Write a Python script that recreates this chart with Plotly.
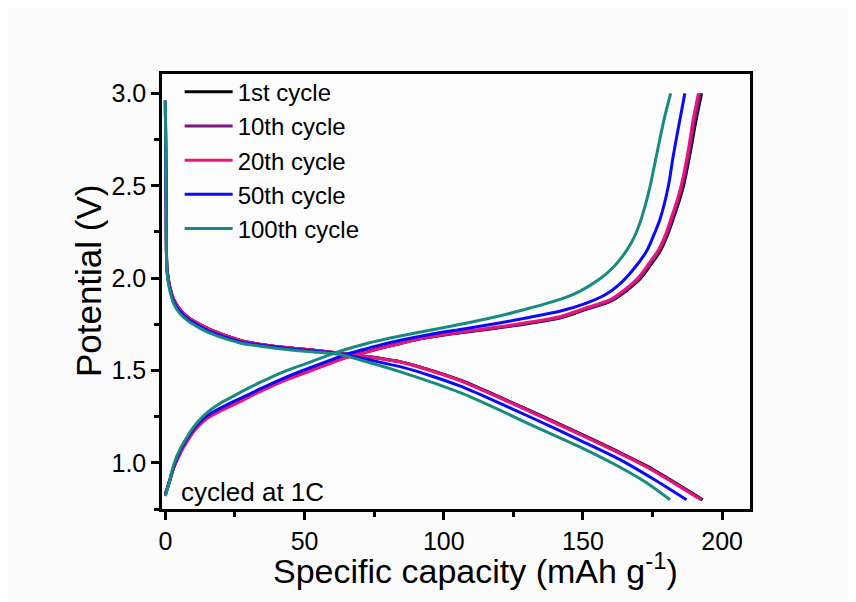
import plotly.graph_objects as go

# ---------------- data ----------------
cycle_names = ["1st cycle", "10th cycle", "20th cycle", "50th cycle", "100th cycle"]
cycle_colors = ["#000000", "#7d1585", "#e8157f", "#0a0af5", "#1a8a80"]

# discharge branches (capacity mAh/g, potential V)
dis_cap_1 = [0, 0.3, 0.6, 1.5, 3, 5, 8, 12, 16, 22, 28, 35, 46, 55, 63, 70, 77, 85, 95, 106, 118, 131, 149, 163, 173, 183, 193.0]
dis_v_1 = [2.96, 2.4, 2.05, 1.96, 1.885, 1.835, 1.79, 1.752, 1.722, 1.687, 1.658, 1.64, 1.62, 1.607, 1.593, 1.58, 1.566, 1.545, 1.503, 1.447, 1.37, 1.282, 1.158, 1.058, 0.982, 0.893, 0.80]
dis_cap_10 = [0, 0.3, 0.6, 1.5, 3, 5, 8, 12, 16, 22, 28, 35, 46, 55, 63, 70, 77, 85, 95, 106, 118, 131, 149, 163, 173, 183, 192.7]
dis_v_10 = [2.96, 2.4, 2.05, 1.96, 1.885, 1.835, 1.79, 1.752, 1.722, 1.687, 1.658, 1.64, 1.62, 1.607, 1.593, 1.58, 1.566, 1.545, 1.502, 1.446, 1.368, 1.28, 1.156, 1.055, 0.979, 0.89, 0.80]
dis_cap_20 = [0, 0.3, 0.6, 1.5, 3, 5, 8, 12, 16, 22, 28, 35, 46, 55, 63, 70, 77, 85, 95, 106, 118, 131, 149, 163, 173, 183, 192.4]
dis_v_20 = [2.96, 2.4, 2.05, 1.96, 1.885, 1.835, 1.79, 1.752, 1.722, 1.687, 1.658, 1.64, 1.62, 1.607, 1.593, 1.579, 1.564, 1.543, 1.50, 1.444, 1.366, 1.277, 1.153, 1.052, 0.976, 0.887, 0.80]
dis_cap_50 = [0, 0.3, 0.6, 1.5, 3, 5, 8, 12, 16, 22, 28, 35, 46, 55, 63, 70, 77, 85, 95, 106, 118, 131, 149, 163, 175, 187.2]
dis_v_50 = [2.96, 2.4, 2.04, 1.95, 1.873, 1.823, 1.78, 1.742, 1.712, 1.678, 1.652, 1.635, 1.615, 1.603, 1.59, 1.568, 1.545, 1.518, 1.473, 1.415, 1.337, 1.248, 1.122, 1.02, 0.915, 0.80]
dis_cap_100 = [0, 0.3, 0.6, 1.5, 3, 5, 8, 12, 16, 22, 28, 35, 46, 55, 63, 70, 77, 85, 95, 106, 118, 131, 149, 161, 172, 181.3]
dis_v_100 = [2.96, 2.4, 2.03, 1.94, 1.862, 1.812, 1.77, 1.732, 1.702, 1.67, 1.645, 1.63, 1.61, 1.598, 1.585, 1.557, 1.527, 1.49, 1.44, 1.38, 1.30, 1.208, 1.085, 0.995, 0.90, 0.80]

# charge branches
chg_cap_1 = [0, 1.5, 3, 5.5, 7.8, 10, 12, 15, 19.7, 25, 29.3, 34, 42, 52, 60, 65, 72, 77, 84, 91.5, 100, 106, 118, 131, 142, 150, 160, 165, 170.5, 174, 177.7, 180, 182.4, 184.5, 186.2, 188.6, 190.5, 192.6]
chg_v_1 = [0.83, 0.90, 0.975, 1.06, 1.12, 1.17, 1.205, 1.245, 1.285, 1.322, 1.355, 1.39, 1.445, 1.50, 1.545, 1.572, 1.600, 1.620, 1.645, 1.671, 1.692, 1.704, 1.727, 1.755, 1.785, 1.825, 1.875, 1.925, 1.995, 2.065, 2.145, 2.22, 2.32, 2.415, 2.505, 2.685, 2.845, 3.0]
chg_cap_10 = [0, 1.5, 3, 5.5, 7.8, 10, 12, 15, 19.7, 25, 29.3, 34, 42, 52, 60, 65, 72, 77, 84, 91.5, 100, 106, 118, 131, 142, 150, 160, 165, 170.3, 173.8, 177.5, 179.8, 182.2, 184.2, 185.9, 188.3, 190.1, 192.2]
chg_v_10 = [0.83, 0.90, 0.975, 1.06, 1.12, 1.17, 1.205, 1.245, 1.285, 1.322, 1.355, 1.39, 1.445, 1.50, 1.545, 1.572, 1.600, 1.620, 1.645, 1.671, 1.693, 1.706, 1.729, 1.758, 1.788, 1.828, 1.878, 1.93, 2.0, 2.07, 2.15, 2.225, 2.325, 2.42, 2.51, 2.69, 2.85, 3.0]
chg_cap_20 = [0, 1.5, 3, 5.5, 7.8, 10, 12, 15, 19.7, 25, 29.3, 34, 42, 52, 60, 65, 72, 77, 84, 91.5, 100, 106, 118, 131, 142, 150, 160, 165, 170, 173.5, 177.2, 179.5, 181.8, 183.9, 185.5, 187.8, 189.5, 191.5]
chg_v_20 = [0.83, 0.90, 0.972, 1.055, 1.115, 1.165, 1.2, 1.24, 1.28, 1.317, 1.35, 1.385, 1.44, 1.497, 1.543, 1.57, 1.598, 1.618, 1.645, 1.672, 1.695, 1.708, 1.732, 1.762, 1.792, 1.833, 1.885, 1.937, 2.005, 2.075, 2.155, 2.23, 2.33, 2.425, 2.515, 2.69, 2.85, 3.0]
chg_cap_50 = [0, 1.5, 3, 5.5, 7.8, 10, 12, 15, 20, 25, 29.3, 34, 42, 52, 60, 65, 72, 77, 84, 95, 106, 120, 131, 142, 150, 158, 163, 168, 173, 175.5, 177.7, 180.7, 182.4, 184.6, 186.6]
chg_v_50 = [0.825, 0.90, 0.98, 1.07, 1.13, 1.18, 1.215, 1.255, 1.298, 1.335, 1.365, 1.40, 1.455, 1.515, 1.56, 1.587, 1.617, 1.637, 1.662, 1.695, 1.722, 1.757, 1.788, 1.822, 1.858, 1.91, 1.965, 2.045, 2.15, 2.235, 2.32, 2.50, 2.66, 2.84, 3.0]
chg_cap_100 = [0, 1.5, 3, 5.5, 7.8, 10, 12, 15, 20, 25, 29.3, 34, 42, 52, 60, 65, 72, 77, 84, 95, 106, 120, 131, 141.8, 149, 156, 161, 165.7, 168.5, 170.5, 172.5, 174, 176.5, 179, 181.5]
chg_v_100 = [0.82, 0.90, 0.99, 1.08, 1.14, 1.19, 1.228, 1.272, 1.325, 1.365, 1.40, 1.435, 1.49, 1.545, 1.59, 1.615, 1.645, 1.663, 1.685, 1.718, 1.75, 1.795, 1.838, 1.885, 1.93, 1.995, 2.06, 2.15, 2.225, 2.30, 2.40, 2.49, 2.67, 2.85, 3.0]

discharge_caps = [dis_cap_1, dis_cap_10, dis_cap_20, dis_cap_50, dis_cap_100]
discharge_vs = [dis_v_1, dis_v_10, dis_v_20, dis_v_50, dis_v_100]
charge_caps = [chg_cap_1, chg_cap_10, chg_cap_20, chg_cap_50, chg_cap_100]
charge_vs = [chg_v_1, chg_v_10, chg_v_20, chg_v_50, chg_v_100]

x_ticks = [0, 50, 100, 150, 200]
y_ticks = [1.0, 1.5, 2.0, 2.5, 3.0]
y_tick_text = ["1.0", "1.5", "2.0", "2.5", "3.0"]

# ---------------- figure ----------------
FONT = "Liberation Sans, Arial, sans-serif"
fig = go.Figure()
for name, col, dc, dv, cc, cv in zip(cycle_names, cycle_colors, discharge_caps, discharge_vs, charge_caps, charge_vs):
    fig.add_trace(go.Scatter(x=dc, y=dv, mode="lines", name=name, legendgroup=name,
                             line=dict(color=col, width=3, shape="spline", smoothing=0.8),
                             showlegend=True))
    fig.add_trace(go.Scatter(x=cc, y=cv, mode="lines", name=name, legendgroup=name,
                             line=dict(color=col, width=3, shape="spline", smoothing=0.8),
                             showlegend=False))

fig.add_annotation(x=5.0, y=0.842, xref="x", yref="y", text="cycled at 1C", showarrow=False,
                   xanchor="left", yanchor="middle", font=dict(family=FONT, size=26, color="black"))

fig.add_annotation(x=0.533, y=-0.137, xref="paper", yref="paper",
                   text="Specific capacity (mAh g<sup>-1</sup>)", showarrow=False,
                   xanchor="center", yanchor="middle", font=dict(family=FONT, size=34, color="black"))
fig.add_annotation(x=-0.126, y=0.526, xref="paper", yref="paper", text="Potential (V)",
                   showarrow=False, textangle=-90, xanchor="center", yanchor="middle",
                   font=dict(family=FONT, size=35, color="black"))

axis_common = dict(showline=True, linecolor="black", linewidth=2.5, mirror=True,
                   ticks="outside", ticklen=8, tickwidth=2.5, tickcolor="black",
                   showgrid=False, zeroline=False,
                   tickfont=dict(family=FONT, size=25, color="black"))

fig.update_xaxes(range=[-1.2, 210], tickvals=x_ticks,
                 minor=dict(ticks="outside", ticklen=5, tickwidth=2.5, tickcolor="black", dtick=25, tick0=0),
                 **axis_common)
fig.update_yaxes(range=[0.75, 3.105], tickvals=y_ticks, ticktext=y_tick_text,
                 minor=dict(ticks="outside", ticklen=5, tickwidth=2.5, tickcolor="black", dtick=0.25, tick0=0),
                 **axis_common)

fig.update_layout(
    width=848, height=594,
    margin=dict(l=154, r=106, t=66, b=93),
    paper_bgcolor="#fbfbfb", plot_bgcolor="#fcfcfc",
    font=dict(family=FONT, color="black"),
    showlegend=True,
    legend=dict(x=0.03, y=1.01, xanchor="left", yanchor="top",
                bgcolor="rgba(0,0,0,0)", borderwidth=0,
                font=dict(family=FONT, size=24, color="black"),
                itemwidth=48, tracegroupgap=0),
)

fig.write_html("out.html")
